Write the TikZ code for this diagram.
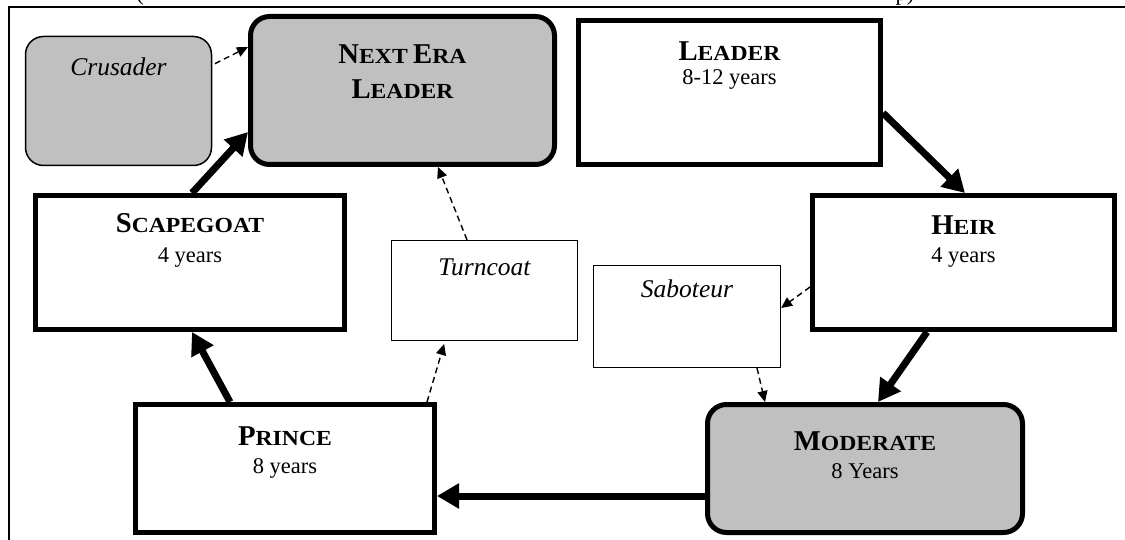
\documentclass[tikz,border=0pt]{standalone}
\usepackage{fontspec}
\usepackage{graphicx}
\setmainfont{Liberation Serif}
\usetikzlibrary{arrows.meta}

\definecolor{boxgray}{HTML}{C0C0C0}

% Title in bold small capitals: large initial, widened small capitals after it
\newcommand\capword[2]{{\fontsize{28.7pt}{30pt}\selectfont #1}\scalebox{1.1}[1]{\fontsize{21.5pt}{23pt}\selectfont #2}}

\tikzset{
  stagebox/.style={draw, line width=5pt, minimum width=#1, inner sep=0pt, outer sep=auto},
  greystage/.style={stagebox=#1, fill=boxgray, rounded corners=19pt},
  sidebox/.style={draw, line width=1.2pt, minimum width=#1, inner sep=0pt, outer sep=auto},
  ttl/.style={inner sep=0pt, anchor=base, font=\bfseries\fontsize{21.5pt}{24pt}\selectfont},
  sub/.style={inner sep=0pt, anchor=base, font=\fontsize{22.5pt}{26pt}\selectfont},
  side/.style={inner sep=0pt, anchor=base, font=\fontsize{25.5pt}{28pt}\selectfont\itshape},
  flow/.style={line width=7pt, -{Triangle[length=22pt,width=24pt]}},
  hint/.style={line width=1.4pt, dash pattern=on 6pt off 4pt, -{Triangle[length=11pt,width=10pt]}},
  frame/.style={line width=1.4pt}
}

\begin{document}
\begin{tikzpicture}[x=1pt, y=-1pt]
\useasboundingbox (0,0) rectangle (1125,540);
\clip (0,0) rectangle (1125,540);

% page frame and the tail of the caption line above it
\coordinate (frameTL) at (9,7);
\coordinate (frameTR) at (1125,7);
\coordinate (frameBL) at (9,540);
\draw[frame] (frameTR) -- (frameTL) -- (frameBL);
\node[sub] (capA) at (140,1) {(};
\node[sub] (capB) at (905,1) {p)};

% stages of the cycle
\node[greystage=304pt, minimum height=148pt] (nextera) at (402.5,90.5) {};
\node[stagebox=302pt, minimum height=144pt] (leader) at (729.5,92.5) {};
\node[stagebox=309pt, minimum height=134pt] (scapegoat) at (190,262.5) {};
\node[stagebox=302pt, minimum height=134pt] (heir) at (963.5,262.5) {};
\node[stagebox=299pt, minimum height=128pt] (prince) at (285,468.5) {};
\node[greystage=315pt, minimum height=128pt] (moderate) at (865,468.5) {};

% side roles
\node[sidebox=186pt, minimum height=129pt, line width=1.5pt, fill=boxgray, rounded corners=18pt] (crusader) at (118.5,101) {};
\node[sidebox=186pt, minimum height=100pt] (turncoat) at (484.5,290.5) {};
\node[sidebox=187pt, minimum height=102pt] (saboteur) at (687,316.5) {};

% labels
\node[ttl] (nextera-t1) at ([yshift=-50pt]nextera.north) {\capword{N}{EXT} \capword{E}{RA}};
\node[ttl] (nextera-t2) at ([yshift=-85pt]nextera.north) {\capword{L}{EADER}};
\node[ttl] (leader-t) at ([yshift=-43pt]leader.north) {\capword{L}{EADER}};
\node[sub] (leader-s) at ([yshift=-67pt]leader.north) {8-12 years};
\node[ttl] (scapegoat-t) at ([yshift=-40pt]scapegoat.north) {\capword{S}{CAPEGOAT}};
\node[sub] (scapegoat-s) at ([yshift=-69pt]scapegoat.north) {4 years};
\node[ttl] (heir-t) at ([yshift=-42pt]heir.north) {\capword{H}{EIR}};
\node[sub] (heir-s) at ([yshift=-69pt]heir.north) {4 years};
\node[ttl] (prince-t) at ([yshift=-43pt]prince.north) {\capword{P}{RINCE}};
\node[sub] (prince-s) at ([yshift=-71pt]prince.north) {8 years};
\node[ttl] (moderate-t) at ([yshift=-48pt]moderate.north) {\capword{M}{ODERATE}};
\node[sub] (moderate-s) at ([yshift=-76pt]moderate.north) {8 Years};
\node[side] (crusader-t) at ([yshift=-40pt]crusader.north) {Crusader};
\node[side] (turncoat-t) at ([yshift=-36pt]turncoat.north) {Turncoat};
\node[side] (saboteur-t) at ([yshift=-33pt]saboteur.north) {Saboteur};

% main succession
\draw[flow] ([yshift=-20.5pt]leader.east) -- ([xshift=1.5pt]heir.north);
\draw[flow] ([xshift=-36.5pt]heir.south) -- ([xshift=13pt]moderate.north);
\draw[flow] ([yshift=-27.5pt]moderate.west) -- ([yshift=-27.5pt]prince.east);
\draw[flow] ([xshift=-55pt]prince.north) -- ([xshift=2pt]scapegoat.south);
\draw[flow] ([xshift=2pt]scapegoat.north) -- ([yshift=-41.5pt]nextera.west);

% side paths
\draw[hint, shorten <=3pt] ([yshift=36pt]crusader.east) -- ([yshift=43.5pt]nextera.west);
\draw[hint] ([yshift=-24.5pt]heir.west) -- ([yshift=8.5pt]saboteur.east);
\draw[hint] ([xshift=70pt]saboteur.south) -- ([xshift=-100pt]moderate.north);
\draw[hint, shorten >=3pt] ([xshift=142pt]prince.north) -- ([xshift=-39.5pt]turncoat.south);
\draw[hint] ([xshift=-17.5pt]turncoat.north) -- ([xshift=35.5pt]nextera.south);
\end{tikzpicture}
\end{document}
